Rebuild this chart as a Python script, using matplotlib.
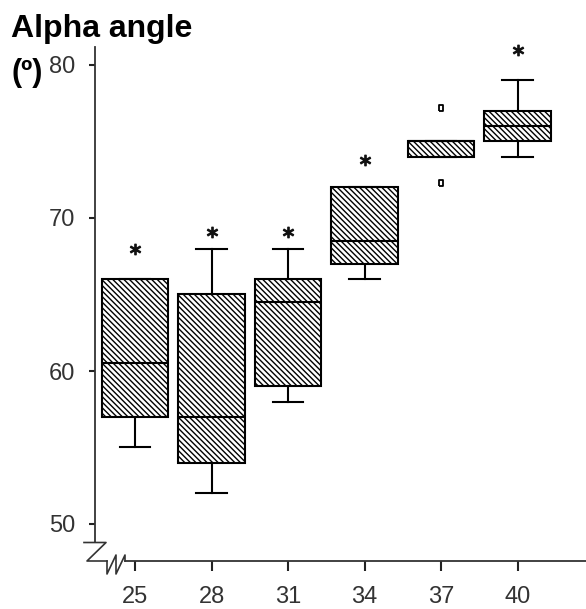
import matplotlib
matplotlib.use('Agg')
import matplotlib.pyplot as plt
from matplotlib.lines import Line2D

ages = [25, 28, 31, 34, 37, 40]
whislo = [55, 52, 58, 66, 74, 74]
q1 = [57, 54, 59, 67, 74, 75]
med = [60.5, 57, 64.5, 68.5, 75, 76]
q3 = [66, 65, 66, 72, 75, 77]
whishi = [66, 68, 68, 72, 75, 79]
fliers = [[], [], [], [], [72.3, 77.2], []]
star_y = [68.0, 69.1, 69.1, 73.8, None, 81.0]
yticks = [50, 60, 70, 80]

W, H = 586, 609


def px(x, y):
    # figure pixel (from top-left) -> figure fraction
    return x / W, 1 - y / H


def main():
    plt.rcParams['font.family'] = ['Liberation Sans', 'DejaVu Sans']
    plt.rcParams['hatch.linewidth'] = 1.0
    fig = plt.figure(figsize=(W / 100, H / 100), dpi=100)
    l, b = px(95, 561)
    r, t = px(586, 47)
    ax = fig.add_axes([l, b, r - l, t - b])

    stats = []
    for i in range(len(ages)):
        stats.append(dict(whislo=whislo[i], q1=q1[i], med=med[i], q3=q3[i],
                          whishi=whishi[i], fliers=fliers[i]))
    lw = 1.5
    ax.bxp(stats, positions=ages, widths=2.6, capwidths=1.2, patch_artist=True,
           boxprops=dict(facecolor='white', edgecolor='black', hatch='\\' * 6, linewidth=lw),
           medianprops=dict(color='black', linewidth=lw),
           whiskerprops=dict(color='black', linewidth=lw),
           capprops=dict(color='black', linewidth=lw),
           flierprops=dict(marker=[(-0.5, -1), (0.5, -1), (0.5, 1), (-0.5, 1), (-0.5, -1)],
                           markersize=4.5, markerfacecolor='white',
                           markeredgecolor='black', markeredgewidth=1.3))

    for x, y in zip(ages, star_y):
        if y is not None:
            ax.plot(x, y, marker='$*$', markersize=7.5, color='#111111',
                    linestyle='none', clip_on=False)

    ax.set_xlim(25 - 40 / 25.5, 40 + 68.5 / 25.5)
    ax.set_ylim(80 - 496 / 15.3, 80 + 18 / 15.3)
    ax.set_xticks(ages)
    ax.set_yticks(yticks)
    for s in ['top', 'right']:
        ax.spines[s].set_visible(False)
    ax.spines['left'].set_bounds(80 - 477.5 / 15.3, 80 + 18 / 15.3)
    ax.spines['bottom'].set_bounds(25 - 10 / 25.5, 40 + 68.5 / 25.5)
    for s in ['left', 'bottom']:
        ax.spines[s].set_linewidth(1.3)
        ax.spines[s].set_color('#333333')
    ax.tick_params(axis='y', length=4.3, width=1.5, pad=10, labelsize=17,
                   labelcolor='#333333', color='#222222')
    ax.tick_params(axis='x', length=7.2, width=1.5, pad=11, labelsize=17,
                   labelcolor='#333333', color='#222222')

    # axis break marks
    zx = [84, 106, 87, 107]
    zy = [542.5, 542.5, 561, 561]
    fig.add_artist(Line2D([px(x, 0)[0] for x in zx], [px(0, y)[1] for y in zy],
                          transform=fig.transFigure, color='#333333', linewidth=1.2))
    nx = [107, 107, 116, 116, 125, 125]
    ny = [561, 574, 555, 574, 555, 561]
    fig.add_artist(Line2D([px(x, 0)[0] for x in nx], [px(0, y)[1] for y in ny],
                          transform=fig.transFigure, color='#333333', linewidth=1.2))

    fig.text(*px(11, 37), 'Alpha angle', fontsize=23, fontweight='bold', va='baseline')
    fig.text(*px(11, 80.5), '(º)', fontsize=22, fontweight='bold', va='baseline')

    fig.savefig('out.png', dpi=100)


if __name__ == '__main__':
    main()
